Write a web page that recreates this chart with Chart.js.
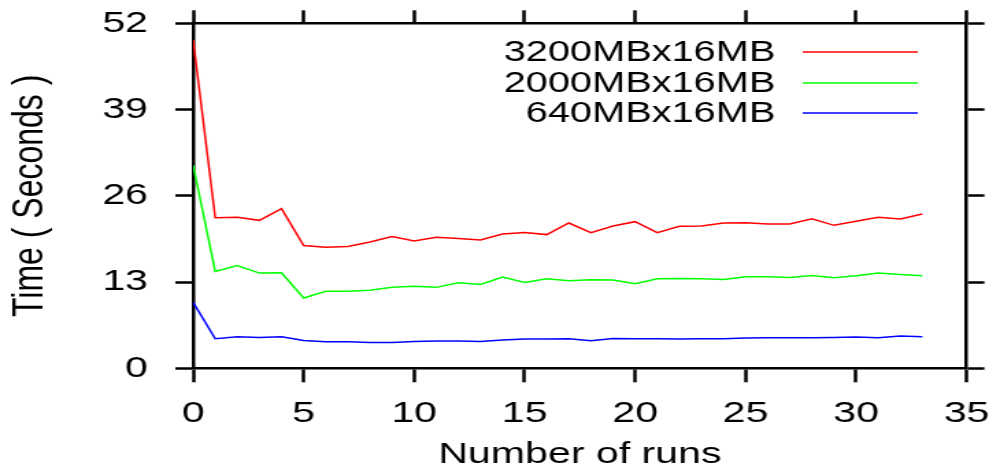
<!DOCTYPE html>
<html>
<head>
<meta charset="utf-8">
<script src="https://cdn.jsdelivr.net/npm/chart.js@4/dist/chart.umd.min.js"></script>
<style>
  html, body { margin: 0; padding: 0; background: #fff; overflow: hidden; }
  #wrap { position: absolute; left: 0; top: 0; width: 730px; height: 473px;
          transform: scaleX(1.36986); transform-origin: 0 0; }
</style>
</head>
<body>
<div id="wrap"><canvas id="c"></canvas></div>
<script>
const runs = [0,1,2,3,4,5,6,7,8,9,10,11,12,13,14,15,16,17,18,19,20,21,22,23,24,25,26,27,28,29,30,31,32,33];
const seriesLabels = ['3200MBx16MB', '2000MBx16MB', '640MBx16MB'];
const red = [49.5, 22.7, 22.75, 22.3, 24.05, 18.5, 18.25, 18.35, 19.05, 19.85, 19.2, 19.75, 19.55, 19.35, 20.25, 20.45, 20.15, 21.9, 20.45, 21.45, 22.1, 20.45, 21.4, 21.45, 21.9, 21.95, 21.75, 21.75, 22.55, 21.55, 22.15, 22.75, 22.5, 23.25];
const green = [30.6, 14.6, 15.5, 14.35, 14.4, 10.6, 11.6, 11.6, 11.75, 12.2, 12.35, 12.2, 12.9, 12.65, 13.75, 12.95, 13.5, 13.2, 13.35, 13.3, 12.75, 13.5, 13.55, 13.5, 13.4, 13.8, 13.8, 13.7, 14.0, 13.65, 13.95, 14.35, 14.15, 13.95];
const blue = [9.95, 4.45, 4.75, 4.65, 4.75, 4.2, 4.0, 4.0, 3.9, 3.9, 4.05, 4.1, 4.1, 4.05, 4.25, 4.4, 4.4, 4.45, 4.15, 4.5, 4.45, 4.45, 4.4, 4.45, 4.45, 4.55, 4.6, 4.6, 4.6, 4.65, 4.7, 4.6, 4.85, 4.75];
const xTicks = [0, 5, 10, 15, 20, 25, 30, 35];
const yTicks = [0, 13, 26, 39, 52];
const colors = ['#ff0000', '#00ff00', '#0000ff'];

const FONT = '"Liberation Sans", Arial, Helvetica, sans-serif';
const toPts = arr => arr.map((v, i) => ({ x: runs[i], y: v }));

const legendPlugin = {
  id: 'insideLegend',
  afterDatasetsDraw(chart) {
    const ctx = chart.ctx;
    ctx.save();
    ctx.font = '29px ' + FONT;
    ctx.textAlign = 'right';
    ctx.textBaseline = 'middle';
    const rows = [53, 84, 114];
    chart.data.datasets.forEach((ds, i) => {
      const y = rows[i];
      ctx.fillStyle = '#000';
      ctx.fillText(ds.label, 566, y);
      ctx.strokeStyle = ds.borderColor;
      ctx.lineWidth = 1.5;
      ctx.beginPath();
      ctx.moveTo(586, y - 1);
      ctx.lineTo(670, y - 1);
      ctx.stroke();
    });
    ctx.restore();
  }
};

const tickFont = { family: FONT, size: 30 };
const borderCfg = { display: true, color: '#000', width: 2.5 };
const noPad = s => { s.paddingTop = 0; s.paddingBottom = 0; s.paddingLeft = 0; s.paddingRight = 0; };

new Chart(document.getElementById('c'), {
  type: 'line',
  data: {
    datasets: [
      { label: seriesLabels[0], data: toPts(red), borderColor: colors[0] },
      { label: seriesLabels[1], data: toPts(green), borderColor: colors[1] },
      { label: seriesLabels[2], data: toPts(blue), borderColor: colors[2] }
    ].map(d => Object.assign(d, { borderWidth: 1.5, pointRadius: 0, tension: 0, fill: false, xAxisID: 'x', yAxisID: 'y' }))
  },
  options: {
    responsive: true,
    maintainAspectRatio: false,
    animation: false,
    layout: { padding: 0 },
    plugins: { legend: { display: false }, tooltip: { enabled: false } },
    scales: {
      x: {
        type: 'linear', position: 'bottom', min: 0, max: 35,
        afterBuildTicks: s => { s.ticks = xTicks.map(v => ({ value: v })); },
        ticks: { font: tickFont, color: '#000', padding: 13, maxRotation: 0, autoSkip: false },
        grid: { drawOnChartArea: false, tickLength: 14, tickWidth: 2.5, tickColor: '#000' },
        border: borderCfg,
        title: { display: true, text: 'Number of runs', font: { family: FONT, size: 30, lineHeight: 1.2 }, color: '#000', padding: { top: 0, bottom: 0 } },
        afterFit: s => { s.height = 104.7; noPad(s); }
      },
      x2: {
        type: 'linear', position: 'top', min: 0, max: 35,
        afterBuildTicks: s => { s.ticks = xTicks.map(v => ({ value: v })); },
        ticks: { display: false },
        grid: { drawOnChartArea: false, tickLength: 13, tickWidth: 2.5, tickColor: '#000' },
        border: borderCfg,
        afterFit: s => { s.height = 23.3; noPad(s); }
      },
      y: {
        type: 'linear', position: 'left', min: 0, max: 52,
        afterBuildTicks: s => { s.ticks = yTicks.map(v => ({ value: v })); },
        ticks: { font: tickFont, color: '#000', padding: 20 },
        grid: { drawOnChartArea: false, tickLength: 13, tickWidth: 2.5, tickColor: '#000' },
        border: borderCfg,
        title: { display: true, text: 'Time ( Seconds )', font: { family: FONT, size: 32, lineHeight: 1.2 }, color: '#000', padding: { top: 3.4, bottom: 0 } },
        afterFit: s => { s.width = 141; noPad(s); }
      },
      y2: {
        type: 'linear', position: 'right', min: 0, max: 52,
        afterBuildTicks: s => { s.ticks = yTicks.map(v => ({ value: v })); },
        ticks: { display: false },
        grid: { drawOnChartArea: false, tickLength: 13, tickWidth: 2.5, tickColor: '#000' },
        border: borderCfg,
        afterFit: s => { s.width = 24.4; noPad(s); }
      }
    }
  },
  plugins: [legendPlugin]
});
</script>
</body>
</html>
